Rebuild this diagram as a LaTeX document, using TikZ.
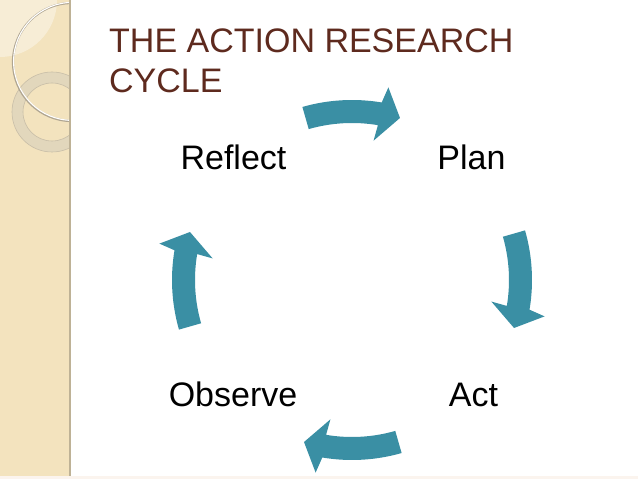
\documentclass[tikz,border=0pt]{standalone}
\usepackage{fontspec}
\setmainfont{Liberation Sans}
\definecolor{titlecol}{RGB}{94,42,30}
\definecolor{teal}{RGB}{58,143,164}
\definecolor{stripcol}{RGB}{243,227,190}
\definecolor{stripedge}{RGB}{190,178,150}
\definecolor{lightcol}{RGB}{247,237,214}
\definecolor{ringcol}{RGB}{222,212,188}
\definecolor{ringedge}{RGB}{200,190,168}
\definecolor{circshadow}{RGB}{175,165,145}
\definecolor{bottomcol}{RGB}{251,244,238}
\tikzset{
  titletext/.style={anchor=base west, inner sep=0pt, text=titlecol, font=\fontsize{34}{40}\selectfont},
  steplabel/.style={anchor=base, inner sep=0pt, text=black, font=\fontsize{34}{40}\selectfont},
  blockarrow/.style={fill=teal, draw=none}
}
\begin{document}
\begin{tikzpicture}[x=1pt,y=1pt]
\useasboundingbox (0,0) rectangle (638,479);
\fill[white] (0,0) rectangle (638,479);
\fill[bottomcol] (0,0) rectangle (638,3);
% left decorative strip
\fill[stripcol] (0,3) rectangle (69,479);
\begin{scope}
  \clip (0,3) rectangle (69,479);
  \fill[lightcol] (0,479) circle[radius=57pt];
  \fill[ringcol, opacity=0.8, even odd rule] (52,367) circle[radius=40pt] (52,367) circle[radius=29pt];
  \draw[ringedge, line width=0.6pt] (52,367) circle[radius=40pt];
  \draw[ringedge, line width=0.6pt] (52,367) circle[radius=29pt];
  \draw[circshadow, line width=2.2pt] (72,417) circle[radius=59pt];
  \draw[white, line width=1.1pt] (72.6,417.6) circle[radius=59pt];
\end{scope}
\fill[stripedge] (68.5,3) rectangle (71,479);
% title
\node[titletext] (title1) at (109,426) {THE ACTION RESEARCH};
\node[titletext] (title2) at (109,386) {CYCLE};
% labels
\node[steplabel] (reflect) at (233.5,309) {Reflect};
\node[steplabel] (plan) at (471.5,309) {Plan};
\node[steplabel] (observe) at (233,72) {Observe};
\node[steplabel] (act) at (473.5,72) {Act};
% curved block arrows
\coordinate (ctr) at (352,199);
\foreach \k in {0,1,2,3}{
  \begin{scope}[shift={(ctr)}, rotate=-90*\k]
    \fill[blockarrow] (106:180) arc[start angle=106, end angle=80.5, radius=180pt]
      -- (79.3:196) -- (73.5:169) -- (81.2:141) -- (80.5:157)
      arc[start angle=80.5, end angle=106, radius=157pt] -- cycle;
  \end{scope}
}
\end{tikzpicture}
\end{document}
